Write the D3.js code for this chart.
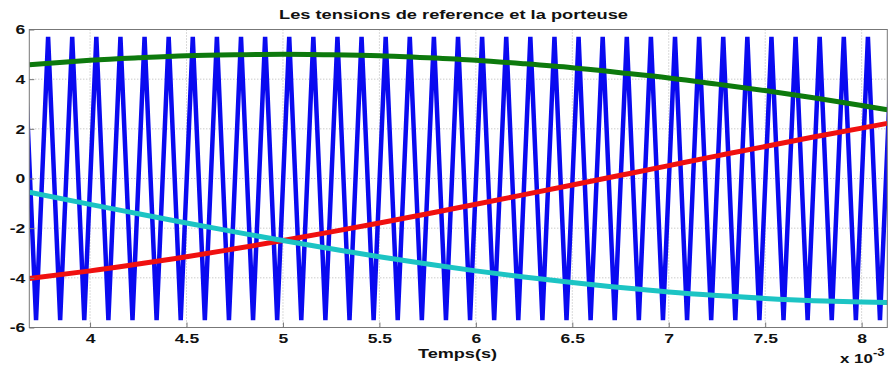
<!DOCTYPE html>
<html>
<head>
<meta charset="utf-8">
<script src="https://cdn.jsdelivr.net/npm/d3@7"></script>
<style>
  body { margin: 0; background: #fff; }
  svg { display: block; }
  .grid line { stroke: #b4b4b4; stroke-dasharray: 1,2; stroke-width: 1; }
  .lbl { font-family: "Liberation Sans", Arial, sans-serif; font-weight: bold; fill: #111; }
</style>
</head>
<body>
<div id="chart"></div>
<script>
// time in ms (axis shows x 10^-3 s)
var peakTimes = [3.6575, 3.7825, 3.9075, 4.0325, 4.1575, 4.2825, 4.4075, 4.5325, 4.6575, 4.7825,
  4.9075, 5.0325, 5.1575, 5.2825, 5.4075, 5.5325, 5.6575, 5.7825, 5.9075, 6.0325, 6.1575, 6.2825,
  6.4075, 6.5325, 6.6575, 6.7825, 6.9075, 7.0325, 7.1575, 7.2825, 7.4075, 7.5325, 7.6575, 7.7825,
  7.9075, 8.0325, 8.1575];
var troughTimes = [3.72, 3.845, 3.97, 4.095, 4.22, 4.345, 4.47, 4.595, 4.72, 4.845, 4.97, 5.095,
  5.22, 5.345, 5.47, 5.595, 5.72, 5.845, 5.97, 6.095, 6.22, 6.345, 6.47, 6.595, 6.72, 6.845, 6.97,
  7.095, 7.22, 7.345, 7.47, 7.595, 7.72, 7.845, 7.97, 8.095];
var peakLevel = 5.7, troughLevel = -5.7;

var refTimes = [3.685, 4.0, 4.25, 4.5, 4.75, 5.0, 5.25, 5.5, 5.75, 6.0, 6.25, 6.5, 6.75, 7.0,
  7.25, 7.5, 7.75, 8.0, 8.133];
var vGreen = [4.58, 4.76, 4.86, 4.94, 4.98, 5.0, 4.98, 4.94, 4.86, 4.76, 4.62, 4.46, 4.26, 4.05,
  3.80, 3.54, 3.25, 2.94, 2.77];
var vRed = [-4.03, -3.72, -3.44, -3.15, -2.83, -2.5, -2.15, -1.79, -1.42, -1.04, -0.65, -0.26,
  0.13, 0.52, 0.91, 1.29, 1.67, 2.03, 2.22];
var vCyan = [-0.55, -1.04, -1.42, -1.79, -2.15, -2.5, -2.83, -3.15, -3.44, -3.72, -3.97, -4.19,
  -4.39, -4.57, -4.71, -4.83, -4.92, -4.97, -4.99];

var xTicks = [4, 4.5, 5, 5.5, 6, 6.5, 7, 7.5, 8];
var yTicks = [-6, -4, -2, 0, 2, 4, 6];

var W = 888, H = 365;
var margin = {top: 29.5, right: 0.7, bottom: 37.5, left: 29.3};
var pw = W - margin.left - margin.right, ph = H - margin.top - margin.bottom;

var x = d3.scaleLinear().domain([3.685, 8.133]).range([0, pw]);
var y = d3.scaleLinear().domain([-6, 6]).range([ph, 0]);

var svg = d3.select("#chart").append("svg").attr("width", W).attr("height", H);
svg.append("defs").append("clipPath").attr("id", "clip")
  .append("rect").attr("width", pw).attr("height", ph);

var g = svg.append("g").attr("transform", "translate(" + margin.left + "," + margin.top + ")");

// grid
g.append("g").attr("class", "grid").selectAll("line.v").data(xTicks).enter().append("line")
  .attr("x1", d => x(d)).attr("x2", d => x(d)).attr("y1", 0).attr("y2", ph);
g.append("g").attr("class", "grid").selectAll("line.h").data(yTicks).enter().append("line")
  .attr("y1", d => y(d)).attr("y2", d => y(d)).attr("x1", 0).attr("x2", pw);

// carrier vertices
var carrier = peakTimes.map(t => [t, peakLevel]).concat(troughTimes.map(t => [t, troughLevel]))
  .sort((a, b) => a[0] - b[0]);

var plot = g.append("g").attr("clip-path", "url(#clip)");
var line = d3.line().x(d => x(d[0])).y(d => y(d[1]));

plot.append("path").datum(carrier).attr("d", line)
  .attr("fill", "none").attr("stroke", "#0a0af0").attr("stroke-width", 4.5)
  .attr("stroke-linejoin", "bevel");

var smooth = d3.line().x(d => x(d[0])).y(d => y(d[1])).curve(d3.curveNatural);
[[vGreen, "#0d7a0d"], [vRed, "#f01010"], [vCyan, "#1cc4c4"]].forEach(function(s) {
  plot.append("path").datum(refTimes.map((t, i) => [t, s[0][i]])).attr("d", smooth)
    .attr("fill", "none").attr("stroke", s[1]).attr("stroke-width", 5);
});

// axes box
g.append("rect").attr("width", pw).attr("height", ph)
  .attr("fill", "none").attr("stroke", "#777").attr("stroke-width", 1);

var xAxis = g.append("g").attr("transform", "translate(0," + ph + ")")
  .call(d3.axisBottom(x).tickValues(xTicks).tickSize(-5).tickPadding(6).tickFormat(d => String(d)));
var yAxis = g.append("g")
  .call(d3.axisLeft(y).tickValues(yTicks).tickSize(-5).tickPadding(5).tickFormat(d => String(d)));
[xAxis, yAxis].forEach(function(a) {
  a.select(".domain").remove();
  a.selectAll(".tick line").attr("stroke", "#777");
  a.selectAll("text").attr("class", "lbl").style("font-size", "13px")
    .attr("font-family", null);
});
xAxis.selectAll("text").attr("transform", "scale(1.35,1)");
yAxis.selectAll("text").attr("x", -3).attr("transform", "scale(1.35,1)");

// texts
svg.append("text").attr("class", "lbl").attr("x", 279).attr("y", 19)
  .attr("textLength", 349).attr("lengthAdjust", "spacingAndGlyphs")
  .style("font-size", "12.5px").text("Les tensions de reference et la porteuse");
svg.append("text").attr("class", "lbl").attr("x", 418).attr("y", 358)
  .attr("textLength", 79).attr("lengthAdjust", "spacingAndGlyphs")
  .style("font-size", "13px").text("Temps(s)");
var ex = svg.append("text").attr("class", "lbl").attr("transform", "translate(840,363) scale(1.3,1)")
  .style("font-size", "13px");
ex.append("tspan").text("x 10");
ex.append("tspan").attr("dy", -7).style("font-size", "10px").text("-3");
</script>
</body>
</html>
